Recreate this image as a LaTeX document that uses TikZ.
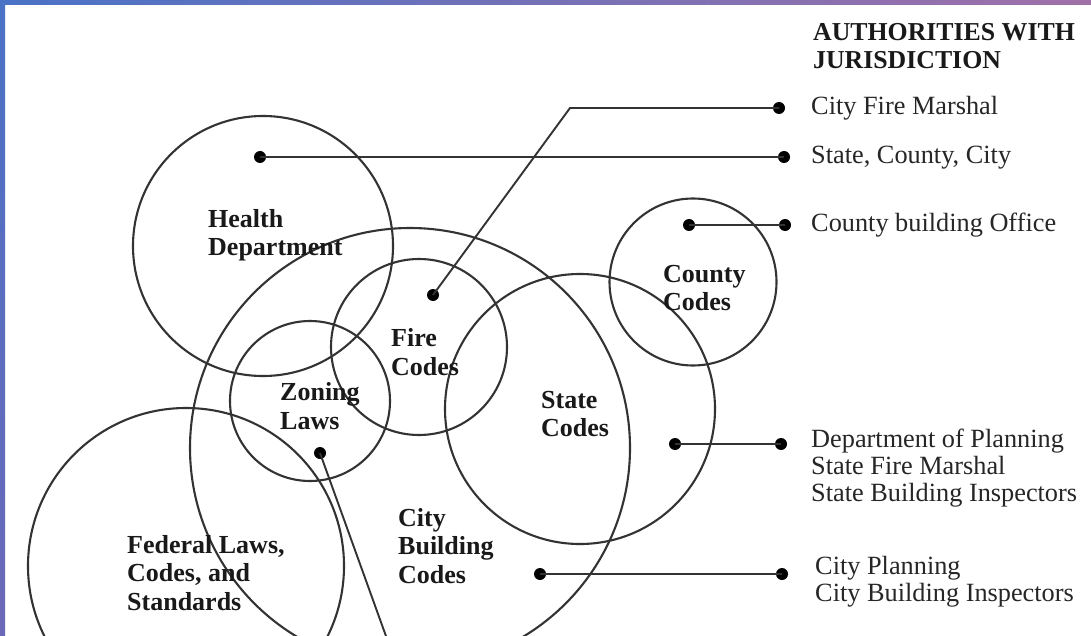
\documentclass[tikz,border=0pt]{standalone}
\usepackage{fontspec}
\setmainfont{Liberation Serif}
\definecolor{ink}{HTML}{333333}
\definecolor{bandA}{HTML}{4A72C6}
\definecolor{bandB}{HTML}{A070A8}
\definecolor{bandC}{HTML}{6C68B8}
\tikzset{
  ring/.style={draw=ink, line width=2.1pt, circle, inner sep=0pt},
  dotnode/.style={fill=black, circle, inner sep=0pt, minimum size=12pt},
  conn/.style={draw=ink, line width=1.9pt},
  lab/.style={font=\fontsize{26}{28.5}\selectfont\bfseries, align=left, anchor=west, inner sep=0pt, text=black!90},
  auth/.style={font=\fontsize{26.3}{27}\selectfont, align=left, anchor=west, inner sep=0pt, text=black!85},
  head/.style={font=\fontsize{25.8}{28}\selectfont\bfseries, align=left, anchor=west, inner sep=0pt, text=black!90}
}
\begin{document}
\begin{tikzpicture}[x=1pt,y=-1pt]
\useasboundingbox (0,0) rectangle (1091,636);
\clip (0,0) rectangle (1091,636);
\fill[white] (0,0) rectangle (1091,636);
% circles
\node[ring, minimum size=260pt] (health) at (263,246) {};
\node[ring, minimum size=440pt] (city) at (410,448) {};
\node[ring, minimum size=176pt] (fire) at (419,347) {};
\node[ring, minimum size=160pt] (zoning) at (310,401) {};
\node[ring, minimum size=270pt] (state) at (580,409) {};
\node[ring, minimum size=167pt] (county) at (693,282) {};
\node[ring, minimum size=316pt] (federal) at (186,566) {};
% labels
\node[lab] (lhealth) at (208,235) {Health\\Department};
\node[lab] (lfire) at (391,352) {Fire\\Codes};
\node[lab] (lzoning) at (280,406) {Zoning\\Laws};
\node[lab] (lstate) at (541,414) {State\\Codes};
\node[lab] (lcounty) at (663,288) {County\\Codes};
\node[lab] (lcity) at (398,546) {City\\Building\\Codes};
\node[lab] (lfederal) at (127,573) {Federal Laws,\\Codes, and\\Standards};
% header
\node[head] (header) at (813,46) {AUTHORITIES WITH\\JURISDICTION};
% authority texts
\node[auth] (a1) at (811,108) {City Fire Marshal};
\node[auth] (a2) at (811,158) {State, County, City};
\node[auth] (a3) at (811,225) {County building Office};
\node[auth] (a4) at (811,468) {Department of Planning\\State Fire Marshal\\State Building Inspectors};
\node[auth] (a5) at (815,582) {City Planning\\City Building Inspectors};
% dots
\node[dotnode] (dfire) at (433,295) {};
\node[dotnode] (efire) at (779,108) {};
\coordinate (kfire) at (570,108);
\node[dotnode] (dhealth) at (260,157) {};
\node[dotnode] (ehealth) at (784,157) {};
\node[dotnode] (dcounty) at (689,225) {};
\node[dotnode] (ecounty) at (785,225) {};
\node[dotnode] (dstate) at (675,444) {};
\node[dotnode] (estate) at (781,444) {};
\node[dotnode] (dcity) at (540,574) {};
\node[dotnode] (ecity) at (782,574) {};
\node[dotnode] (dzoning) at (320,453) {};
\coordinate (ezoning) at (391,650);
% connectors
\draw[conn] (dfire.center) -- (kfire) -- (efire.center);
\draw[conn] (dhealth.center) -- (ehealth.center);
\draw[conn] (dcounty.center) -- (ecounty.center);
\draw[conn] (dstate.center) -- (estate.center);
\draw[conn] (dcity.center) -- (ecity.center);
\draw[conn] (dzoning.center) -- (ezoning);
% border bands
\shade[left color=bandA, right color=bandB] (0,0) rectangle (1091,5);
\shade[top color=bandA, bottom color=bandC] (0,0) rectangle (5,636);
\end{tikzpicture}
\end{document}
